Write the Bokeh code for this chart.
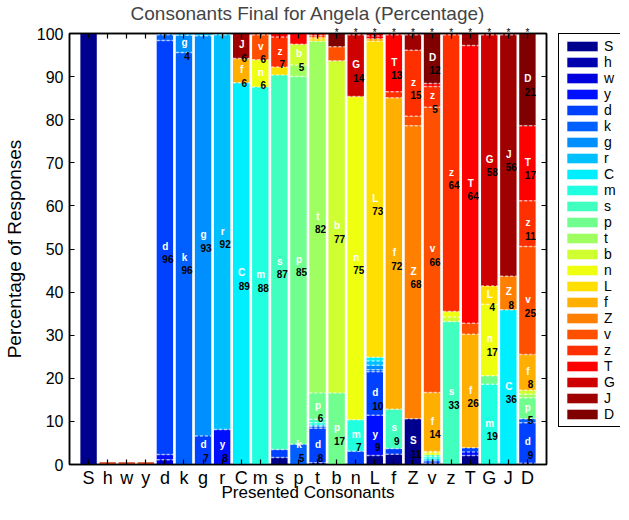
from bokeh.plotting import figure
from bokeh.models import (ColumnDataSource, Range1d, FixedTicker, LinearAxis, Legend,
                          LegendItem, LabelSet)
from bokeh.layouts import row
from bokeh.core.properties import value
from bokeh.embed import file_html
from bokeh.resources import INLINE

# ---------------- data ----------------
presented = ["S", "h", "w", "y", "d", "k", "g", "r", "C", "m", "s", "p",
             "t", "b", "n", "L", "f", "Z", "v", "z", "T", "G", "J", "D"]
responses = list(presented)

# percentage of responses for each presented consonant
resp_S = {"S": 100.0}
resp_h = {}
resp_w = {}
resp_y = {}
resp_d = {"w": 1.1, "y": 1.2, "d": 96.1, "k": 1.3, "g": 0.3}
resp_k = {"k": 95.6, "g": 4.0, "r": 0.4}
resp_g = {"d": 6.6, "g": 92.9, "r": 0.5}
resp_r = {"y": 8.1, "r": 91.6, "C": 0.3}
resp_C = {"C": 88.6, "f": 5.6, "J": 5.8}
resp_m = {"m": 87.6, "n": 6.3, "v": 5.8, "z": 0.3}
resp_s = {"S": 1.6, "d": 1.9, "s": 86.9, "L": 1.8, "z": 7.0, "T": 0.8}
resp_p = {"k": 4.7, "p": 85.3, "t": 2.7, "b": 4.8, "T": 2.5}
resp_t = {"S": 0.4, "d": 8.0, "k": 0.4, "g": 0.3, "m": 0.6, "s": 0.8, "p": 6.1,
          "t": 81.6, "L": 0.6, "f": 0.4, "z": 0.4, "T": 0.4}
resp_b = {"p": 16.6, "b": 77.1, "v": 3.2, "D": 3.1}
resp_n = {"d": 3.1, "m": 7.3, "n": 75.0, "G": 14.3, "J": 0.3}
resp_L = {"S": 2.1, "y": 9.3, "d": 10.1, "k": 0.5, "g": 1.0, "r": 1.0, "C": 0.9,
          "L": 73.3, "f": 0.6, "T": 0.6, "G": 0.6}
resp_f = {"S": 2.4, "d": 1.3, "s": 9.1, "f": 72.3, "z": 1.4, "T": 13.2, "G": 0.3}
resp_Z = {"S": 10.6, "Z": 68.0, "v": 2.2, "z": 15.3, "J": 3.6, "D": 0.3}
resp_v = {"S": 0.3, "d": 0.5, "r": 0.5, "m": 0.5, "s": 0.4, "n": 0.5, "L": 0.3,
          "f": 13.7, "v": 66.2, "z": 4.8, "T": 0.7, "D": 11.6}
resp_z = {"s": 33.2, "b": 1.0, "n": 1.3, "z": 64.2, "G": 0.3}
resp_T = {"S": 2.1, "y": 0.8, "d": 1.0, "f": 26.3, "v": 2.6, "T": 64.4, "J": 2.8}
resp_G = {"m": 18.6, "p": 2.0, "n": 16.6, "L": 4.2, "G": 58.3, "J": 0.3}
resp_J = {"C": 35.9, "Z": 7.8, "J": 56.0, "D": 0.3}
resp_D = {"S": 0.3, "d": 9.4, "k": 0.9, "p": 4.9, "t": 0.8, "b": 0.9, "f": 8.3,
          "v": 25.1, "z": 10.6, "T": 17.4, "D": 21.4}

starred = ["b", "n", "L", "f", "Z", "v", "z", "T", "G", "J", "D"]
y_ticks = [0, 10, 20, 30, 40, 50, 60, 70, 80, 90, 100]
label_min = 4.0

columns = [resp_S, resp_h, resp_w, resp_y, resp_d, resp_k, resp_g, resp_r, resp_C,
           resp_m, resp_s, resp_p, resp_t, resp_b, resp_n, resp_L, resp_f, resp_Z,
           resp_v, resp_z, resp_T, resp_G, resp_J, resp_D]

FONT = "Liberation Sans"


def jet_color(i, n):
    k = min(64, int(i * 64 / (n - 1)) + 1)
    if k <= 8:
        r, g, b = 0, 0, (k + 8) / 16
    elif k <= 24:
        r, g, b = 0, (k - 8) / 16, 1
    elif k <= 40:
        r, g, b = (k - 24) / 16, 1, (40 - k) / 16
    elif k <= 56:
        r, g, b = 1, (56 - k) / 16, 0
    else:
        r, g, b = (72 - k) / 16, 0, 0
    return "#%02x%02x%02x" % (round(r * 255), round(g * 255), round(b * 255))


colors = [jet_color(i, len(responses)) for i in range(len(responses))]

xs = list(range(len(presented)))
data = {"x": xs}
for r in responses:
    data[r] = [col.get(r, 0.0) for col in columns]
source = ColumnDataSource(data)

# segment boundaries and labels
BW = 0.86
dash = {"x0": [], "x1": [], "y": []}
lab = {"x": [], "y": [], "letter": [], "num": []}
for i, col in enumerate(columns):
    base = 0.0
    for r in responses:
        v = col.get(r, 0.0)
        if v <= 0:
            continue
        top = base + v
        if top < 99.9:
            dash["x0"].append(i - BW / 2)
            dash["x1"].append(i + BW / 2)
            dash["y"].append(top)
        if label_min <= v < 99.5:
            lab["x"].append(i)
            lab["y"].append(max(base + v / 2, 4.4))
            lab["letter"].append(r)
            lab["num"].append("%.0f" % v)
        base = top

empty_x = [i for i, col in enumerate(columns) if sum(col.values()) == 0]

# ---------------- main figure ----------------
p = figure(width=554, height=504, x_range=Range1d(-1, 24), y_range=Range1d(0, 100),
           output_backend="svg", toolbar_location=None,
           min_border_left=68, min_border_right=8, min_border_top=32, min_border_bottom=30,
           title="Consonants Final for Angela (Percentage)")
p.title.text_font = FONT
p.title.text_font_size = "19px"
p.title.text_font_style = "normal"
p.title.text_line_height = 1.0
p.title.align = "center"
p.title.standoff = 0
p.grid.visible = False
p.outline_line_color = "black"
p.outline_line_width = 1.5
p.background_fill_color = "white"

renderers = p.vbar_stack(responses, x="x", width=BW, fill_color=colors,
                         line_color=None, source=source)

p.vbar(x=empty_x, bottom=0, top=0.5, width=BW, fill_color="#cc3f1a", line_color=None)

p.segment(x0="x0", x1="x1", y0="y", y1="y", source=ColumnDataSource(dash),
          line_color="white", line_alpha=0.6, line_width=1.5, line_dash="3 2")

lab_src = ColumnDataSource(lab)
p.add_layout(LabelSet(x="x", y="y", text="letter", source=lab_src, text_color="white",
                      text_font=value(FONT), text_font_style="bold", text_font_size="10px",
                      text_align="center", text_baseline="middle", y_offset=1, x_offset=0.5))
p.add_layout(LabelSet(x="x", y="y", text="num", source=lab_src, text_color="black",
                      text_font=value(FONT), text_font_style="bold", text_font_size="10px",
                      text_align="center", text_baseline="middle", y_offset=-12, x_offset=3))

# axes
xa = p.xaxis[0]
xa.ticker = FixedTicker(ticks=xs)
xa.major_label_overrides = {i: c for i, c in zip(xs, presented)}
xa.major_label_text_font = FONT
xa.major_label_text_font_size = "18px"
xa.major_label_text_line_height = 1.0
xa.major_label_standoff = 3
xa.axis_label = "Presented Consonants"
xa.axis_label_text_font = FONT
xa.axis_label_text_font_size = "17px"
xa.axis_label_text_font_style = "normal"
xa.axis_label_text_line_height = 1.0
xa.axis_label_standoff = -8

ya = p.yaxis[0]
ya.ticker = FixedTicker(ticks=y_ticks)
ya.major_label_text_font = FONT
ya.major_label_text_font_size = "16px"
ya.major_label_standoff = 6
ya.axis_label = "Percentage of Responses"
ya.axis_label_text_font = FONT
ya.axis_label_text_font_size = "19px"
ya.axis_label_text_font_style = "normal"
ya.axis_label_text_line_height = 1.0
ya.axis_label_standoff = 9

# top axis carries the significance stars
top_axis = LinearAxis(ticker=FixedTicker(ticks=xs))
top_axis.major_label_overrides = {i: ("*" if c in starred else "") for i, c in zip(xs, presented)}
top_axis.major_label_text_font = FONT
top_axis.major_label_text_font_size = "10px"
top_axis.major_label_text_line_height = 1.0
top_axis.major_label_standoff = -4
right_axis = LinearAxis(ticker=FixedTicker(ticks=y_ticks))
right_axis.major_label_overrides = {t: "" for t in y_ticks}
right_axis.major_label_text_font_size = "0px"
right_axis.major_label_standoff = 0
p.add_layout(top_axis, "above")
p.add_layout(right_axis, "right")

for ax in [xa, ya, top_axis, right_axis]:
    ax.major_tick_in = 5
    ax.major_tick_out = 0
    ax.minor_tick_line_color = None
    ax.axis_line_width = 1.5
    ax.major_tick_line_width = 1.2
    ax.major_label_text_color = "black"
    ax.axis_label_text_color = "black"

# ---------------- legend panel ----------------
lf = figure(width=66, height=504, x_axis_type=None, y_axis_type=None,
            output_backend="svg", toolbar_location=None,
            min_border_left=4, min_border_right=0, min_border_top=32, min_border_bottom=0)
lf.outline_line_color = None
lf.grid.visible = False
proxies = [lf.vbar(x=[0], bottom=[0], top=[0], width=0.5, fill_color=c, line_color=None)
           for c in colors]
items = [LegendItem(label=r, renderers=[rend]) for r, rend in zip(responses, proxies)]
legend = Legend(items=items, location="top_left", orientation="vertical",
                glyph_width=38, glyph_height=12, label_standoff=3, label_height=16,
                spacing=0, padding=4, margin=0,
                border_line_color="black", border_line_width=1, border_line_alpha=1,
                background_fill_color="white", background_fill_alpha=1,
                label_text_font=FONT, label_text_font_size="14px",
                label_text_color="black")
lf.add_layout(legend)

layout = row(p, lf)
open("out.html", "w").write(file_html(layout, INLINE))
